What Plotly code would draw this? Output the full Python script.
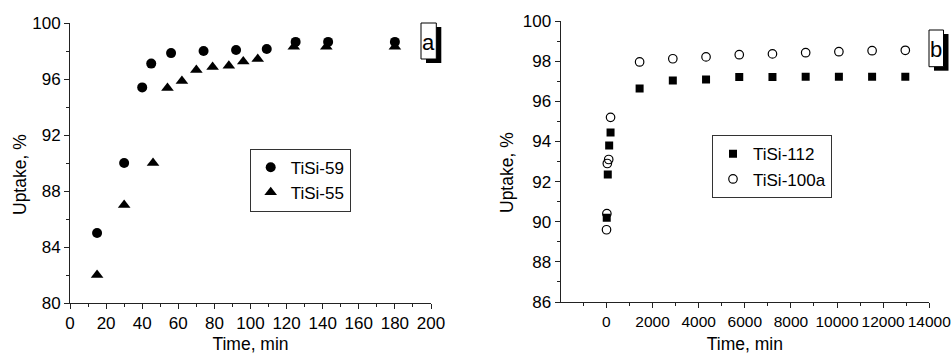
import plotly.graph_objects as go

# ---- Panel a: uptake vs time (min) ----
t_tisi59 = [15, 30, 40, 45, 56, 74, 92, 109, 125, 143, 180]
u_tisi59 = [85.0, 90.0, 95.4, 97.1, 97.85, 98.0, 98.07, 98.14, 98.65, 98.65, 98.65]

t_tisi55 = [15, 30, 46, 54, 62, 70, 79, 88, 96, 104, 124, 142, 180]
u_tisi55 = [82.0, 87.0, 90.0, 95.35, 95.85, 96.65, 96.85, 96.95, 97.25, 97.42, 98.3, 98.3, 98.3]

# ---- Panel b: uptake vs time (min), long run ----
t_tisi112 = [15, 60, 120, 180, 1440, 2880, 4320, 5760, 7200, 8640, 10080, 11520, 12960]
u_tisi112 = [90.2, 92.35, 93.8, 94.45, 96.64, 97.04, 97.09, 97.21, 97.21, 97.22, 97.22, 97.22, 97.22]

t_tisi100a = [5, 20, 40, 100, 180, 1440, 2880, 4320, 5760, 7200, 8640, 10080, 11520, 12960]
u_tisi100a = [89.6, 90.4, 92.9, 93.1, 95.2, 97.96, 98.12, 98.21, 98.32, 98.36, 98.42, 98.47, 98.52, 98.54]

panel_labels = ["a", "b"]
x_title = "Time, min"
y_title = "Uptake, %"

W, H = 951, 354
FONT = "Arial, 'Liberation Sans', Helvetica, sans-serif"
INK = "#000000"
AXIS = "#222222"


def px(x):
    return x / W


def py(y):
    return 1 - y / H


fig = go.Figure()

fig.add_trace(go.Scatter(
    x=t_tisi59, y=u_tisi59, mode="markers", name="TiSi-59",
    marker=dict(symbol="circle", size=10, color=INK),
    xaxis="x", yaxis="y", legend="legend",
))
fig.add_trace(go.Scatter(
    x=t_tisi55, y=u_tisi55, mode="markers", name="TiSi-55",
    marker=dict(symbol="triangle-up", size=11, color=INK),
    xaxis="x", yaxis="y", legend="legend",
))
fig.add_trace(go.Scatter(
    x=t_tisi112, y=u_tisi112, mode="markers", name="TiSi-112",
    marker=dict(symbol="square", size=8, color=INK),
    xaxis="x2", yaxis="y2", legend="legend2",
))
fig.add_trace(go.Scatter(
    x=t_tisi100a, y=u_tisi100a, mode="markers", name="TiSi-100a",
    marker=dict(symbol="circle-open", size=8.5, color=INK, line=dict(width=1.2, color=INK)),
    xaxis="x2", yaxis="y2", legend="legend2",
))

tickfont = dict(family=FONT, size=17, color=INK)
titlefont = dict(family=FONT, size=17.5, color=INK)

common = dict(
    showline=True, linecolor=AXIS, linewidth=1, mirror=False,
    ticks="outside", ticklen=5, tickwidth=1, tickcolor=AXIS,
    showgrid=False, zeroline=False, automargin=False,
    tickformat="d", tickangle=0, ticklabeloverflow="allow",
)

fig.update_layout(
    width=W, height=H,
    margin=dict(l=0, r=0, t=0, b=0),
    paper_bgcolor="white", plot_bgcolor="white",
    font=dict(family=FONT, color=INK),
    xaxis=dict(
        domain=[px(70), px(431)], range=[0, 200], anchor="y",
        tick0=0, dtick=20, tickfont=tickfont,
        minor=dict(dtick=10, ticklen=3, ticks="outside", tickcolor=AXIS),
        title=dict(text=x_title, font=titlefont, standoff=9),
        **common,
    ),
    yaxis=dict(
        domain=[py(303), py(23)], range=[80, 100], anchor="x",
        tick0=80, dtick=4, tickfont=tickfont,
        minor=dict(dtick=2, ticklen=3, ticks="outside", tickcolor=AXIS),
        **common,
    ),
    xaxis2=dict(
        domain=[px(560.5), px(929.3)], range=[-1990, 14000], anchor="y2",
        tick0=0, dtick=2000, tickfont=dict(family=FONT, size=15.5, color=INK),
        minor=dict(dtick=1000, ticklen=3, ticks="outside", tickcolor=AXIS),
        title=dict(text=x_title, font=titlefont, standoff=10),
        **common,
    ),
    yaxis2=dict(
        domain=[py(302), py(21)], range=[86, 100], anchor="x2",
        tick0=86, dtick=2, tickfont=tickfont,
        minor=dict(dtick=1, ticklen=3, ticks="outside", tickcolor=AXIS),
        **common,
    ),
    legend=dict(
        x=px(249.7), y=py(148.7), xanchor="left", yanchor="top",
        bgcolor="white", bordercolor="#333333", borderwidth=1,
        font=dict(family=FONT, size=17, color=INK),
    ),
    legend2=dict(
        x=px(712), y=py(135.3), xanchor="left", yanchor="top",
        bgcolor="white", bordercolor="#333333", borderwidth=1,
        font=dict(family=FONT, size=17, color=INK),
    ),
    showlegend=True,
)

# Vertical axis titles, placed beside each panel's tick labels
for cx, cy in [(20, 175), (507, 173)]:
    fig.add_annotation(
        text=y_title, xref="paper", yref="paper", x=px(cx), y=py(cy),
        xanchor="center", yanchor="middle", textangle=-90, showarrow=False,
        font=titlefont,
    )

# Panel tags: framed letter with a drop shadow in the upper right corner
tag_boxes = [
    (421.0, 23.0, 436.3, 59.0),
    (929.0, 30.0, 943.5, 66.7),
]
shadow_dx, shadow_dy = 5, 4
for label, (x0, y0, x1, y1) in zip(panel_labels, tag_boxes):
    fig.add_shape(
        type="rect", xref="paper", yref="paper",
        x0=px(x0 + shadow_dx), x1=px(x1 + shadow_dx),
        y0=py(y1 + shadow_dy), y1=py(y0 + shadow_dy),
        fillcolor=INK, line=dict(width=0), layer="above",
    )
    fig.add_shape(
        type="rect", xref="paper", yref="paper",
        x0=px(x0), x1=px(x1), y0=py(y1), y1=py(y0),
        fillcolor="white", line=dict(width=1, color=INK), layer="above",
    )
    fig.add_annotation(
        text=label, xref="paper", yref="paper",
        x=px((x0 + x1) / 2), y=py((y0 + y1) / 2 + 1.5),
        xanchor="center", yanchor="middle", showarrow=False,
        font=dict(family=FONT, size=22, color=INK),
    )

fig.write_html("out.html")
